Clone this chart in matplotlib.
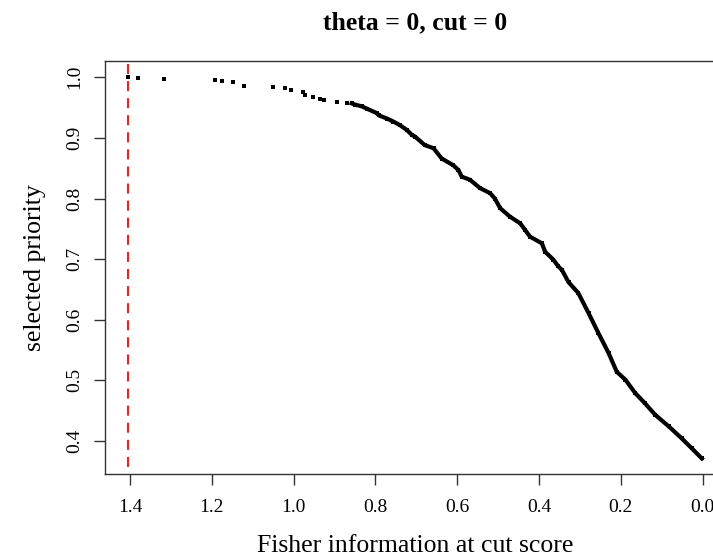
import matplotlib
matplotlib.use("Agg")
import matplotlib.pyplot as plt

plt.rcParams['font.family'] = ['Liberation Serif', 'DejaVu Serif']

# Isolated high-information items
sparse_info = [1.404, 1.380, 1.317, 1.192, 1.174, 1.147, 1.121, 1.050, 1.021,
               1.006, 0.976, 0.972, 0.952, 0.935, 0.926, 0.895, 0.870]
sparse_priority = [1.000, 0.999, 0.997, 0.996, 0.994, 0.992, 0.986, 0.984, 0.982,
                   0.979, 0.976, 0.971, 0.968, 0.965, 0.963, 0.960, 0.958]

# Densely packed items (lower information)
dense_info = [0.858, 0.850, 0.833, 0.820, 0.797, 0.791, 0.772, 0.756, 0.740,
              0.723, 0.711, 0.703, 0.679, 0.658, 0.638, 0.610, 0.597, 0.589,
              0.569, 0.544, 0.520, 0.508, 0.495, 0.471, 0.446, 0.434, 0.422,
              0.393, 0.385, 0.365, 0.353, 0.344, 0.328, 0.304, 0.279, 0.255,
              0.230, 0.210, 0.189, 0.165, 0.141, 0.116, 0.083, 0.051, 0.027,
              0.002]
dense_priority = [0.957, 0.955, 0.952, 0.948, 0.941, 0.937, 0.932, 0.927, 0.921,
                  0.913, 0.905, 0.902, 0.888, 0.883, 0.866, 0.855, 0.847, 0.836,
                  0.831, 0.817, 0.809, 0.800, 0.784, 0.770, 0.759, 0.748, 0.737,
                  0.726, 0.712, 0.699, 0.688, 0.682, 0.662, 0.644, 0.611, 0.578,
                  0.545, 0.514, 0.501, 0.479, 0.462, 0.443, 0.424, 0.404, 0.388,
                  0.371]

max_info = 1.404

x_ticks = [1.4, 1.2, 1.0, 0.8, 0.6, 0.4, 0.2, 0.0]
y_ticks = [0.4, 0.5, 0.6, 0.7, 0.8, 0.9, 1.0]

W, H = 713, 558
fig = plt.figure(figsize=(W / 100, H / 100), dpi=100)
ax = fig.add_axes([105 / W, (H - 474.3) / H, 621 / W, (474.3 - 61) / H])

ax.plot(sparse_info, sparse_priority, linestyle='none', marker='s',
        markersize=3.0, color='black', markeredgewidth=0)
ax.plot(dense_info, dense_priority, linestyle='-', linewidth=3.0,
        marker='s', markersize=3.0, color='black', markeredgewidth=0,
        solid_joinstyle='round')

ax.axvline(max_info, color='#ff1a1a', linewidth=1.5,
           linestyle=(4.8, (4.8, 3.4)))

ax.set_xlim(1.461, -0.057)
ax.set_ylim(0.3449, 1.0269)
ax.set_xticks(x_ticks)
ax.set_xticklabels([f"{v:.1f}" for v in x_ticks])
ax.set_yticks(y_ticks)
ax.set_yticklabels([f"{v:.1f}" for v in y_ticks], rotation=90, va='center')

ax.tick_params(axis='both', direction='out', length=8, width=1,
               color='#333333', labelsize=14)
ax.tick_params(axis='x', pad=10)
ax.tick_params(axis='y', pad=8)
for s in ax.spines.values():
    s.set_color('#333333')
    s.set_linewidth(1.0)

fig.text(415 / W, (H - 29) / H, "theta = 0, cut = 0", ha='center',
         va='baseline', fontsize=18.5, fontweight='bold')
fig.text(415 / W, (H - 551.7) / H, "Fisher information at cut score",
         ha='center', va='baseline', fontsize=18.5)
fig.text(35.5 / W, (H - 267.7) / H, "selected priority", rotation=90,
         ha='center', va='center', fontsize=18.5)

fig.savefig("out.png", dpi=100)
